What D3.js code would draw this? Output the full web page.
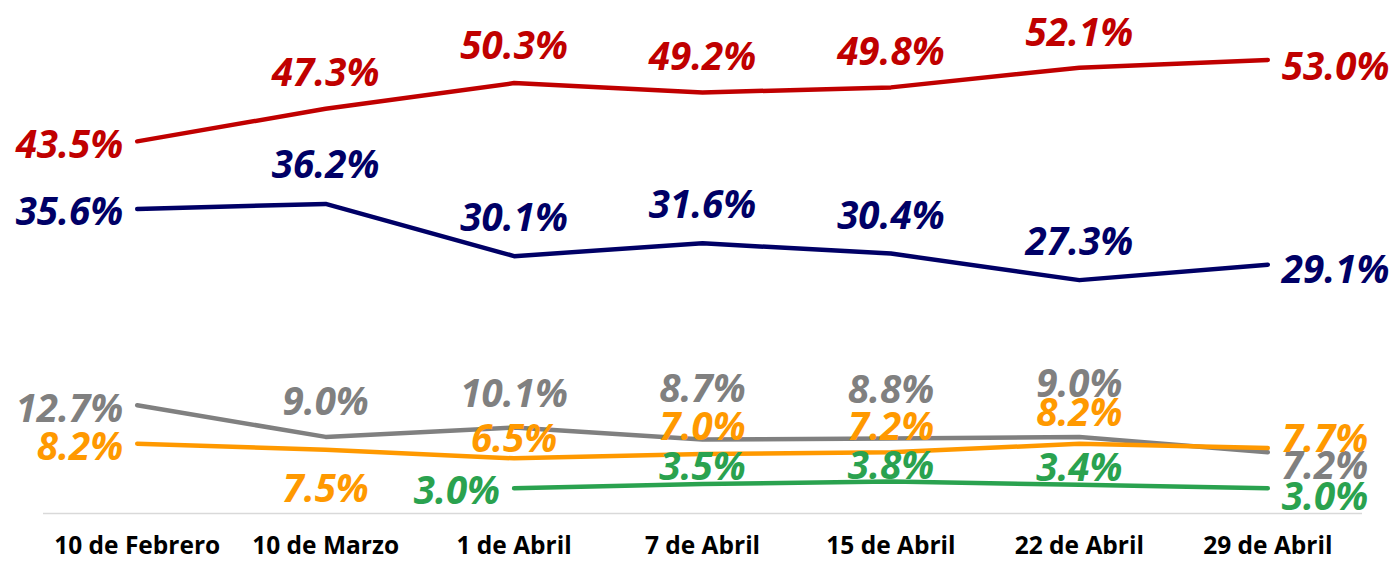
<!DOCTYPE html>
<html>
<head>
<meta charset="utf-8">
<script src="https://cdn.jsdelivr.net/npm/d3@7"></script>
<style>
  body { margin: 0; background: #fff; }
  svg { display: block; }
</style>
</head>
<body>
<div id="chart"></div>
<script>
// Data
const fechas = ["10 de Febrero", "10 de Marzo", "1 de Abril", "7 de Abril", "15 de Abril", "22 de Abril", "29 de Abril"];
const rojo    = [43.5, 47.3, 50.3, 49.2, 49.8, 52.1, 53.0];
const azul    = [35.6, 36.2, 30.1, 31.6, 30.4, 27.3, 29.1];
const gris    = [12.7, 9.0, 10.1, 8.7, 8.8, 9.0, 7.2];
const naranja = [8.2, 7.5, 6.5, 7.0, 7.2, 8.2, 7.7];
const verde   = [null, null, 3.0, 3.5, 3.8, 3.4, 3.0];

// Label placement (layout only): side and vertical offset from the point
const posRojo    = [["l", 2], ["t", -38], ["t", -39], ["t", -38], ["t", -37], ["t", -37], ["r", 5]];
const posAzul    = [["l", 1], ["t", -41], ["t", -40], ["t", -40], ["t", -40], ["t", -40], ["r", 3]];
const posGris    = [["l", 2], ["t", -37], ["t", -35], ["t", -52], ["t", -51], ["t", -55], ["r", 12]];
const posNaranja = [["l", 1], ["t", 37], ["t", -21], ["t", -29], ["t", -27], ["t", -33], ["r", -11]];
const posVerde   = [null, null, ["l", 1], ["t", -19], ["t", -17], ["t", -19], ["r", 7]];

const series = [
    { values: gris, color: "#808080", pos: posGris },
    { values: naranja, color: "#FF9900", pos: posNaranja },
    { values: verde, color: "#2AA24F", pos: posVerde },
    { values: azul, color: "#000066", pos: posAzul },
    { values: rojo, color: "#C00000", pos: posRojo }
];

const width = 1399;
const height = 561;

const svg = d3.select("#chart")
    .append("svg")
    .attr("width", width)
    .attr("height", height);

const x = d3.scaleBand()
    .domain(fechas)
    .range([43, 1362]);

const y = d3.scaleLinear()
    .domain([0, 60])
    .range([514, 0]);

const cx = d => x(d) + x.bandwidth() / 2;

// bottom axis line
svg.append("line")
    .attr("x1", 43)
    .attr("x2", 1362)
    .attr("y1", 513.5)
    .attr("y2", 513.5)
    .attr("stroke", "#D9D9D9")
    .attr("stroke-width", 1.5);

// category labels
svg.append("g")
    .selectAll("text")
    .data(fechas)
    .enter()
    .append("text")
    .attr("x", d => cx(d))
    .attr("y", 554)
    .attr("text-anchor", "middle")
    .style("font-family", "'Open Sans', sans-serif")
    .style("font-weight", "bold")
    .style("font-size", "24.5px")
    .style("fill", "#000")
    .text(d => d);

const line = d3.line()
    .defined(d => d.v != null)
    .x(d => cx(d.f))
    .y(d => y(d.v));

series.forEach(s => {
    const pts = fechas.map((f, i) => ({ f: f, v: s.values[i], p: s.pos[i] }));

    svg.append("path")
        .datum(pts)
        .attr("d", line)
        .attr("fill", "none")
        .attr("stroke", s.color)
        .attr("stroke-width", 4.5)
        .attr("stroke-linecap", "round")
        .attr("stroke-linejoin", "round");

    svg.append("g")
        .selectAll("text")
        .data(pts.filter(d => d.v != null))
        .enter()
        .append("text")
        .attr("x", d => d.p[0] === "l" ? cx(d.f) - 14 : d.p[0] === "r" ? cx(d.f) + 14 : cx(d.f))
        .attr("y", d => y(d.v) + d.p[1])
        .attr("text-anchor", d => d.p[0] === "l" ? "end" : d.p[0] === "r" ? "start" : "middle")
        .attr("dominant-baseline", "central")
        .style("font-family", "'Open Sans', sans-serif")
        .style("font-weight", "bold")
        .style("font-style", "italic")
        .style("font-size", "38.5px")
        .style("fill", s.color)
        .text(d => d.v.toFixed(1) + "%");
});
</script>
</body>
</html>
